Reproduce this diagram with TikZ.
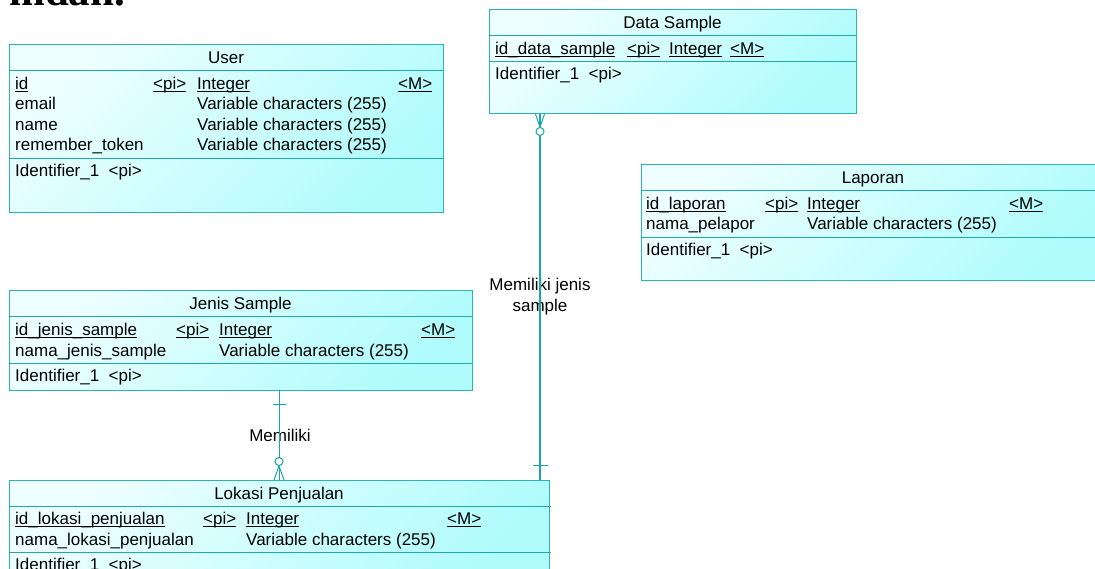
\documentclass[tikz,border=0pt]{standalone}
\usepackage{fontspec}
\setmainfont{Liberation Sans}
\newfontfamily\headserif{Liberation Serif}
\usetikzlibrary{calc}

\definecolor{erline}{HTML}{2DB3B3}
\definecolor{ersep}{HTML}{1FA9A9}
\definecolor{erlink}{HTML}{18A6A6}
\definecolor{fillA}{HTML}{EEFFFF}
\definecolor{fillB}{HTML}{B0FCFD}

% underline at a fixed depth, independent of descenders
\newcommand\ulx[1]{\setbox0\hbox{#1}\rlap{\rule[-2.6pt]{\wd0}{1pt}}\box0}

\tikzset{
  entity/.style={draw=erline, line width=1pt, top color=fillA, bottom color=fillB,
    shading angle=45, inner sep=0pt, outer sep=0pt, anchor=north west},
  txt/.style={anchor=base west, inner sep=0pt, font=\fontsize{17}{20}\selectfont},
  ttl/.style={anchor=base, inner sep=0pt, font=\fontsize{17}{20}\selectfont},
  lbl/.style={inner sep=0pt, align=center, font=\fontsize{17}{21}\selectfont},
  sepline/.style={draw=ersep, line width=1pt},
  link/.style={draw=erlink, line width=1pt},
  thicklink/.style={draw=erlink, line width=2pt},
}

\begin{document}
\begin{tikzpicture}[x=1pt, y=-1pt]
\clip (0,0) rectangle (1095,569);
\fill[white] (0,0) rectangle (1095,569);

% heading text running off the top edge
\node[anchor=base west, inner sep=0pt, font=\headserif\bfseries\fontsize{43}{43}\selectfont] (head) at (9,6) {mdan.};

% ---------- entity boxes ----------
\node[entity, minimum width=434pt, minimum height=168pt] (user)   at (9,45)   {};
\node[entity, minimum width=367pt, minimum height=104pt] (data)   at (489,10) {};
\node[entity, minimum width=464pt, minimum height=116pt] (lapor)  at (641,165) {};
\node[entity, minimum width=463pt, minimum height=99pt]  (jenis)  at (9,291)  {};
\node[entity, minimum width=540pt, minimum height=110pt] (lokasi) at (9,480)  {};

% ---------- compartment separators ----------
\draw[sepline] (9,71) -- (443,71);
\draw[sepline] (9,158.5) -- (443,158.5);
\draw[sepline] (489,36) -- (856,36);
\draw[sepline] (489,62) -- (856,62);
\draw[sepline] (641,191) -- (1105,191);
\draw[sepline] (641,237.5) -- (1105,237.5);
\draw[sepline] (9,317) -- (472,317);
\draw[sepline, line width=1.6pt] (9,363.5) -- (472,363.5);
\draw[sepline] (9,506) -- (551,506);
\draw[sepline, line width=1.6pt] (9,552.5) -- (551,552.5);

% ---------- User ----------
\node[ttl] (user-t) at (226,64) {User};
\node[txt] (user-a1) at (15,89.5)  {\ulx{id}};
\node[txt] (user-a1p) at (153,89.5) {\ulx{<pi>}};
\node[txt] (user-a1t) at (197,89.5) {\ulx{Integer}};
\node[txt] (user-a1m) at (398,89.5) {\ulx{<M>}};
\node[txt] (user-a2) at (15,110)   {email};
\node[txt] (user-a2t) at (197,110) {Variable characters (255)};
\node[txt] (user-a3) at (15,130.5) {name};
\node[txt] (user-a3t) at (197,130.5) {Variable characters (255)};
\node[txt] (user-a4) at (15,151)   {remember\_token};
\node[txt] (user-a4t) at (197,151) {Variable characters (255)};
\node[txt] (user-id) at (15,176.5) {Identifier\_1~~<pi>};

% ---------- Data Sample ----------
\node[ttl] (data-t) at (672.5,29) {Data Sample};
\node[txt] (data-a1) at (495,54.5) {\ulx{id\_data\_sample}};
\node[txt] (data-a1p) at (627,54.5) {\ulx{<pi>}};
\node[txt] (data-a1t) at (669,54.5) {\ulx{Integer}};
\node[txt] (data-a1m) at (730,54.5) {\ulx{<M>}};
\node[txt] (data-id) at (495,80) {Identifier\_1~~<pi>};

% ---------- Laporan ----------
\node[ttl] (lapor-t) at (873,184) {Laporan};
\node[txt] (lapor-a1) at (646,209.5) {\ulx{id\_laporan}};
\node[txt] (lapor-a1p) at (765,209.5) {\ulx{<pi>}};
\node[txt] (lapor-a1t) at (807,209.5) {\ulx{Integer}};
\node[txt] (lapor-a1m) at (1009,209.5) {\ulx{<M>}};
\node[txt] (lapor-a2) at (646,230) {nama\_pelapor};
\node[txt] (lapor-a2t) at (807,230) {Variable characters (255)};
\node[txt] (lapor-id) at (646,255.5) {Identifier\_1~~<pi>};

% ---------- Jenis Sample ----------
\node[ttl] (jenis-t) at (240.5,310) {Jenis Sample};
\node[txt] (jenis-a1) at (15,335.5) {\ulx{id\_jenis\_sample}};
\node[txt] (jenis-a1p) at (176,335.5) {\ulx{<pi>}};
\node[txt] (jenis-a1t) at (219,335.5) {\ulx{Integer}};
\node[txt] (jenis-a1m) at (421,335.5) {\ulx{<M>}};
\node[txt] (jenis-a2) at (15,356) {nama\_jenis\_sample};
\node[txt] (jenis-a2t) at (219,356) {Variable characters (255)};
\node[txt] (jenis-id) at (15,381.5) {Identifier\_1~~<pi>};

% ---------- Lokasi Penjualan ----------
\node[ttl] (lokasi-t) at (279,499) {Lokasi Penjualan};
\node[txt] (lokasi-a1) at (15,524.5) {\ulx{id\_lokasi\_penjualan}};
\node[txt] (lokasi-a1p) at (203,524.5) {\ulx{<pi>}};
\node[txt] (lokasi-a1t) at (246,524.5) {\ulx{Integer}};
\node[txt] (lokasi-a1m) at (447,524.5) {\ulx{<M>}};
\node[txt] (lokasi-a2) at (15,545) {nama\_lokasi\_penjualan};
\node[txt] (lokasi-a2t) at (246,545) {Variable characters (255)};
\node[txt] (lokasi-id) at (15,570.5) {Identifier\_1~~<pi>};

% ---------- relationship labels ----------
\node[lbl] (rel1) at (280,435) {Memiliki};
\node[lbl] (rel2) at (540,296.5) {Memiliki jenis\\sample};

% ---------- relationship: Jenis Sample -> Lokasi Penjualan ----------
\coordinate (xa) at (279,0);
\coordinate (ja) at (xa |- jenis.south);
\coordinate (la) at (xa |- lokasi.north);
\draw[link] (ja) -- (la);
\draw[link] ($(ja)+(-6.5,14)$) -- ++(13,0);
\draw[link] ($(la)+(-5,0)$) -- ($(la)+(0,-14)$) -- ($(la)+(5,0)$);
\draw[link] (la) -- ++(0,-14);
\draw[link, fill=white] ($(la)+(0,-18.5)$) circle[radius=4];

% ---------- relationship: Data Sample -> Lokasi Penjualan ----------
\coordinate (xb) at (540,0);
\coordinate (db) at (xb |- data.south);
\coordinate (lb) at (xb |- lokasi.north);
\draw[thicklink] (db) -- (lb);
\draw[link] ($(db)+(-4.5,0)$) -- ($(db)+(0,13)$) -- ($(db)+(4.5,0)$);
\draw[link, fill=white] ($(db)+(0,17.5)$) circle[radius=4];
\draw[link] ($(lb)+(-7,-15)$) -- ++(15,0);
\end{tikzpicture}
\end{document}
